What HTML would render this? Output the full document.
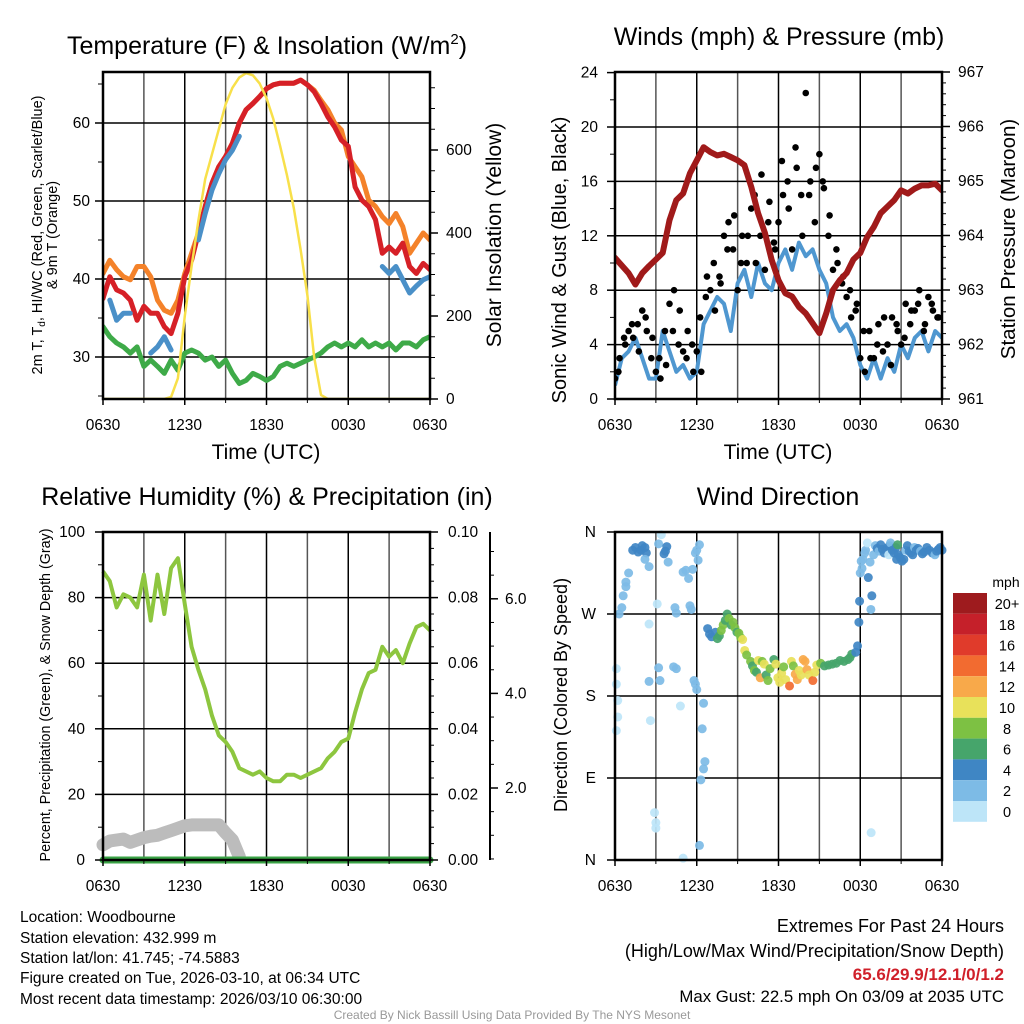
<!DOCTYPE html>
<html><head><meta charset="utf-8"><style>
html,body{margin:0;padding:0;background:#fff;}
svg{display:block;font-family:"Liberation Sans",sans-serif;}
</style></head><body>
<svg id="s" width="1024" height="1024" viewBox="0 0 1024 1024" xmlns="http://www.w3.org/2000/svg">
<defs>
<clipPath id="c1"><rect x="103" y="72" width="327" height="327"/></clipPath>
<clipPath id="c2"><rect x="615" y="72" width="327" height="327"/></clipPath>
<clipPath id="c3"><rect x="96" y="526" width="340" height="340"/></clipPath>
<clipPath id="c4"><rect x="608" y="526" width="340" height="340"/></clipPath>
</defs>
<g id="grid"></g>
<g id="marks"></g>
<g id="axes"></g>
<g id="txt" fill="#000">
<text x="267" y="54" font-size="25" text-anchor="middle">Temperature (F) &amp; Insolation (W/m<tspan font-size="15" dy="-10">2</tspan><tspan dy="10">)</tspan></text>
<text x="779" y="45" font-size="25" text-anchor="middle">Winds (mph) &amp; Pressure (mb)</text>
<text x="267" y="505" font-size="25" text-anchor="middle">Relative Humidity (%) &amp; Precipitation (in)</text>
<text x="778" y="505" font-size="25" text-anchor="middle">Wind Direction</text>
<text font-size="14.5" text-anchor="middle" transform="translate(42,235) rotate(-90)">2m T, T<tspan font-size="10" dy="3">d</tspan><tspan dy="-3">, HI/WC (Red, Green, Scarlet/Blue)</tspan></text>
<text font-size="14.5" text-anchor="middle" transform="translate(57,235) rotate(-90)">&amp; 9m T (Orange)</text>
<text font-size="21" text-anchor="middle" transform="translate(501,235) rotate(-90)">Solar Insolation (Yellow)</text>
<text x="266" y="459" font-size="21" text-anchor="middle">Time (UTC)</text>
<text x="778" y="459" font-size="21" text-anchor="middle">Time (UTC)</text>
<text font-size="20" text-anchor="middle" transform="translate(566,260) rotate(-90)">Sonic Wind &amp; Gust (Blue, Black)</text>
<text font-size="20.5" text-anchor="middle" transform="translate(1015,239) rotate(-90)">Station Pressure (Maroon)</text>
<text font-size="14.3" text-anchor="middle" transform="translate(50,695) rotate(-90)">Percent, Precipitation (Green), &amp; Snow Depth (Gray)</text>
<text font-size="18" text-anchor="middle" transform="translate(567,695) rotate(-90)">Direction (Colored By Speed)</text>
<text x="1006" y="587" font-size="14" text-anchor="middle">mph</text>
<g font-size="15.5">
<text x="20" y="922">Location: Woodbourne</text>
<text x="20" y="943">Station elevation: 432.999 m</text>
<text x="20" y="963">Station lat/lon: 41.745; -74.5883</text>
<text x="20" y="983">Figure created on Tue, 2026-03-10, at 06:34 UTC</text>
<text x="20" y="1004">Most recent data timestamp: 2026/03/10 06:30:00</text>
</g>
<g text-anchor="end">
<text x="1004" y="932" font-size="18">Extremes For Past 24 Hours</text>
<text x="1004" y="957" font-size="18">(High/Low/Max Wind/Precipitation/Snow Depth)</text>
<text x="1004" y="980" font-size="17" fill="#d0202a" font-weight="bold">65.6/29.9/12.1/0/1.2</text>
<text x="1004" y="1002" font-size="16.8">Max Gust: 22.5 mph On 03/09 at 2035 UTC</text>
</g>
<text x="512" y="1019" font-size="12" fill="#999" text-anchor="middle">Created By Nick Bassill Using Data Provided By The NYS Mesonet</text>
</g>
</svg>
<script>
// ---- data (30-minute samples from 0630 UTC) ----
const timeLabels = ["0630","1230","1830","0030","0630"];
const temp2m = [37.5,40.3,38.6,38.2,37.3,34.7,36.5,35.6,35.6,33.9,33,35.6,40.3,42.4,45.9,49.3,52.3,54.4,55.7,57.4,60,61.7,62.5,63.4,64.4,64.9,65.1,65.1,65.1,65.5,64.9,64,62.5,60.8,59.5,57.8,57,51.8,50.1,49.3,47.6,43.3,44.1,43.3,44.6,41.6,40.7,42,41.2];
const temp9m = [40.7,42.4,41.2,40.3,39.9,41.6,41.6,40.3,37.3,36,35.6,37.3,40.7,43.3,45.9,49.3,52.3,54.4,55.7,57.4,60,61.7,62.5,63.4,64.4,64.9,65.1,65.1,65.1,65.5,64.9,64.2,62.9,61.7,60,59.1,55.7,54.4,53.1,50.1,49.3,48,47.1,48.4,46.7,43.3,44.6,45.9,45];
const heatIndexWC = [null,37.3,34.7,35.6,35.6,null,null,30.5,31.3,32.6,30.9,null,null,null,45,48.4,51.4,53.5,55.3,56.5,58.3,null,null,null,null,null,null,null,null,null,null,null,null,null,null,null,null,null,null,null,null,41.6,40.7,41.6,39.9,38.2,39.1,39.9,40.3];
const dewpoint = [33.9,32.6,31.8,31.3,30.5,31.3,28.8,29.6,28.8,27.9,29.6,28.3,30.5,30.9,30.5,29.6,30,28.8,29.6,27.9,26.6,27,27.9,27.5,27,27.5,28.8,29.2,28.8,29.2,29.6,30,30.5,31.3,31.8,31.3,31.8,31.3,32.2,31.3,31.8,31.3,31.8,30.9,31.8,31.8,31.3,32.2,32.6];
const insolation = [0,0,0,0,0,0,0,0,0,0,5,50,200,320,430,530,590,650,710,750,775,785,780,760,725,675,610,540,460,360,250,100,10,0,0,0,0,0,0,0,0,0,0,0,0,0,0,0,0];
const windSpeed = [1,3,3.5,4.5,3,1.5,1.5,5,3.5,2,2.5,1.5,2,5.5,6.5,7.5,7,5,8.5,9.5,7.5,10,8.5,8,10,11,9.5,11.5,10.5,11,9.5,8.5,6,5,5.5,4.5,2.5,1.5,3,1.5,3,2,4,3,4.5,5,3.5,5,4.5];
const pressure = [963.59,963.45,963.31,963.1,963.31,963.44,963.56,963.68,964.28,964.65,964.77,965.14,965.38,965.62,965.53,965.47,965.5,965.44,965.38,965.29,964.89,964.41,964.05,963.55,963.18,962.94,962.88,962.69,962.57,962.39,962.21,962.57,963.0,963.18,963.31,963.56,963.68,963.97,964.16,964.41,964.53,964.65,964.83,964.77,964.86,964.92,964.92,964.95,964.83];
// gusts every 20 minutes
const gusts = [1.5,3,4.5,5,4.5,5.5,6.5,5,3,2,1.5,5,7,8,4,3.5,5,4,3.5,2,7.5,8,6.5,9,12,13,11,8,12,10,14,10,12,9.5,14.5,11.5,13,15,16,11,17,15,22.5,16,13,18,15.5,12,9.5,10,8.5,7.5,6,6.5,3,2,5,3,5.5,3.5,4,6,5.5,4,7,5.5,6.5,8,5,7.5,6.5,6];
const gusts2 = [2,4,5.5,3.5,6,4.5,3,2.5,5,6.5,3,2,6,9,10,8.5,11,13.5,10,12,15,16.5,13,11,17.5,14,18.5,12,15,17,16,13.5,11,9,8,7,5,3,4,6,2.5,5,4.5,6.5,7,5.5,7,6,5];
const relHumidity = [88,85,77,81,80,77,87,73,87,75,89,92,78,65,58,52,44,38,36,33,28,27,26,27,25,24,24,26,26,25,26,27,28,31,33,36,37,45,52,57,58,65,62,64,60,66,71,72,70];
const snowDepth = [0.8,0.88,0.9,0.92,0.85,0.9,0.95,0.98,1.0,1.05,1.1,1.15,1.2,1.22,1.22,1.22,1.22,1.22,1.05,0.9,0.55];
const precip = [0,0,0,0,0,0,0,0,0,0,0,0,0,0,0,0,0,0,0,0,0,0,0,0,0,0,0,0,0,0,0,0,0,0,0,0,0,0,0,0,0,0,0,0,0,0,0,0,0];
const dirHours = [0.1,0.1,0.2,0.2,0.1,0.3,0.5,0.6,0.8,0.8,1.0,1.3,1.5,1.7,1.9,2.0,2.2,2.3,2.2,2.5,2.5,2.5,2.6,2.9,3.0,3.0,3.2,3.3,3.1,3.4,3.2,3.6,3.7,3.8,3.9,4.4,4.5,4.3,4.5,4.8,5.0,5.2,5.4,5.5,5.6,5.7,5.9,6.0,6.1,6.2,5.8,5.9,6.0,6.5,6.4,6.6,6.5,6.3,6.2,5.0,
6.8,6.94,7.09,7.37,7.52,7.66,7.8,7.94,8.09,8.23,8.37,8.52,8.66,8.8,8.95,9.09,9.23,9.37,9.52,9.66,9.95,10.09,10.23,10.38,10.52,10.66,10.8,10.95,11.09,11.23,11.38,11.66,11.81,11.95,12.09,12.23,12.38,12.52,12.81,12.95,13.09,13.23,13.38,13.52,13.66,13.81,13.95,14.09,14.24,14.52,14.66,14.81,15.09,15.38,15.67,15.95,16.24,16.52,16.81,17.1,17.24,17.38,17.67,17.8,
17.9,17.95,18.0,18.07,18.13,18.2,18.33,18.39,18.52,18.59,18.72,18.78,18.85,18.98,19.11,19.24,19.37,19.5,19.63,19.76,19.89,20.02,20.09,20.15,20.22,20.35,20.48,20.61,20.67,20.74,20.8,20.93,21.06,21.2,21.33,21.46,21.59,21.72,21.85,21.98,22.11,22.24,22.43,22.56,22.69,22.89,23.08,23.28,23.48,23.61,23.74,23.87,24.0,18.8];
const dirDegrees = [210,193,175,157,142,270,277,290,300,305,315,340,343,338,340,345,343,337,330,322,259,196,153,52,41,35,211,197,281,357,347,336,339,344,327,277,271,212,210,169,316,318,309,279,275,319,337,340,329,346,197,193,187,172,144,108,100,88,16,2,
254,248,245,250,243,246,252,258,263,270,265,258,261,255,250,249,244,242,230,225,218,213,208,206,219,200,218,215,203,197,210,220,215,200,195,205,212,198,191,218,213,204,198,208,203,220,218,209,203,197,206,214,216,213,214,215,216,219,218,220,222,226,228,235,
261,284,315,328,320,330,337,340,348,310,327,275,290,335,345,342,339,346,341,337,340,343,335,345,348,340,337,343,330,346,335,332,328,330,340,345,339,337,335,343,340,342,339,336,338,343,340,337,335,339,341,343,340,30];
const dirSpeeds = [0.5,0.5,0.5,0.5,0.5,1,2,2,2,2,2,3,4,3.5,4,3,3.5,4,2.5,2,0.5,1,0.5,0.5,0.5,0.5,2,1,0.5,0.5,2,3.5,4,4,2,2,1,2,2,0.5,2,2,2,2,2,2,2,2,2.5,2,1,2,2,1,1,1,1,1,1,0.5,
4,4,4,3.5,5,6,7,8,6.5,6,7,6,7,8,6,7,8,10,10,8,8,6,8,6,10,12,8,10,6,8,8,6,10,10,9,10,8,10,13,10,8,12,12,9,10,12,11,12,9,13,10,10,8,6,6,6,6,6,6,5,6,5,4,4,
4,4,2,2,2,1,2,2,0.5,4,2,2,4,2,2,3,2,3,4,3.5,4,3.5,0.5,4,2,4,4,3.5,4,6,4,4,4,4,2,3.5,4,4,4,2,4,3.5,2,4,4,4,3.5,4,2,4,4,3.5,4,0.5];
const speedLabels = ["20+","18","16","14","12","10","8","6","4","2","0"];
const speedColors = ["#9e1b1e","#c5202a","#e03b2b","#f26b30","#f8a94a","#e8e15a","#7dc143","#46a56b","#3f86c4","#7dbbe6","#bde5f8"];

// ---- helpers ----
const NS="http://www.w3.org/2000/svg";
const G=document.getElementById('grid'),M=document.getElementById('marks'),A=document.getElementById('axes'),T=document.getElementById('txt');
function mk(tag,parent,attrs){const e=document.createElementNS(NS,tag);for(const k in attrs)e.setAttribute(k,attrs[k]);parent.appendChild(e);return e;}
function line(p,x1,y1,x2,y2,st,w){return mk('line',p,{x1:x1,y1:y1,x2:x2,y2:y2,stroke:st,'stroke-width':w});}
function text(p,x,y,s,size,anchor){const t=mk('text',p,{x:x,y:y,'font-size':size,'text-anchor':anchor||'middle'});t.textContent=s;return t;}
function pathFrom(vals,xf,yf,step){let d='',pen=false;vals.forEach((v,i)=>{if(v===null){pen=false;return;}d+=(pen?'L':'M')+xf(i*step).toFixed(1)+','+yf(v).toFixed(1);pen=true;});return d;}
function colorFor(s){let idx=Math.round(s/2);if(idx>10)idx=10;if(idx<0)idx=0;return speedColors[10-idx];}

const P={L:{x0:103,x1:430},R:{x0:615,x1:942}};
const xL=h=>P.L.x0+h*(P.L.x1-P.L.x0)/24;
const xR=h=>P.R.x0+h*(P.R.x1-P.R.x0)/24;
const yTemp=v=>123+(60-v)*7.8;
const ySolar=v=>399-v*0.415;
const yWind=v=>399-v*13.6;
const yPres=p=>399-(p-961)*54.5;
const yRH=v=>860-v*3.28;
const yPrecip=v=>860-v*3280;
const ySnow=v=>882.6-v*47.3;
const yDir=d=>860-d*328/360;
const TF=15.5;

function xgrid(xf,y0,y1){for(let h=3;h<24;h+=3){const l=line(G,xf(h),y0,xf(h),y1,(h%6===0)?'#000':'#555',1.5);}}
function xticks(xf,yb,yl,label){timeLabels.forEach((s,i)=>{const h=i*6;line(A,xf(h),yb,xf(h),yb+6,'#000',1.5);const t=text(A,xf(h),yl,s,TF);});for(let h=3;h<24;h+=6)line(A,xf(h),yb,xf(h),yb+4,'#000',1);}
function frame(x0,y0,x1,y1,name){const r=mk('rect',A,{x:x0,y:y0,width:x1-x0,height:y1-y0,fill:'none',stroke:'#000','stroke-width':2.5});}

// ===== Panel 1 =====
xgrid(xL,72,399);
[30,40,50,60].forEach(v=>line(G,103,yTemp(v),430,yTemp(v),'#000',1.5));
const c1=mk('g',M,{'clip-path':'url(#c1)'});
[['temp-9m-line',temp9m,'#f4822a'],['temp-2m-line',temp2m,'#d62027'],['heat-index-wind-chill-line',heatIndexWC,'#4a90c8'],['dewpoint-line',dewpoint,'#3eaa48']].forEach(s=>{
 const p=mk('path',c1,{d:pathFrom(s[1],xL,yTemp,0.5),fill:'none',stroke:s[2],'stroke-width':5,'stroke-linejoin':'round','stroke-linecap':'round'});
 });
const ins=mk('path',c1,{d:pathFrom(insolation,xL,ySolar,0.5),fill:'none',stroke:'#f8e04a','stroke-width':2.5,'stroke-linejoin':'round'});

frame(103,72,430,399,'temp-plot-frame');
[30,40,50,60].forEach(v=>{line(A,95,yTemp(v),103,yTemp(v),'#000',1.5);const t=text(A,90,yTemp(v)+5,String(v),TF,'end');});
[25,35,45,55,65].forEach(v=>line(A,98,yTemp(v),103,yTemp(v),'#000',1));
[0,200,400,600].forEach(v=>{line(A,430,ySolar(v),438,ySolar(v),'#000',1.5);const t=text(A,446,ySolar(v)+5,String(v),TF,'start');});
for(let v=50;v<800;v+=50){if(v%200)line(A,430,ySolar(v),435,ySolar(v),'#000',1);}
xticks(xL,399,430,'temp-x');

// ===== Panel 2 =====
xgrid(xR,72,399);
[4,8,12,16,20].forEach(v=>line(G,615,yWind(v),942,yWind(v),'#000',1.5));
const c2=mk('g',M,{'clip-path':'url(#c2)'});
const wp=mk('path',c2,{d:pathFrom(windSpeed,xR,yWind,0.5),fill:'none',stroke:'#4f97d0','stroke-width':4,'stroke-linejoin':'round'});

gusts.forEach((g,i)=>{const c=mk('circle',c2,{cx:xR(i/3),cy:yWind(g),r:3.3,fill:'#000'});});
gusts2.forEach((g,i)=>{const c=mk('circle',c2,{cx:xR(i*0.5+0.25),cy:yWind(g),r:3.3,fill:'#000'});});
const pp=mk('path',c2,{d:pathFrom(pressure,xR,yPres,0.5),fill:'none',stroke:'#a01a1a','stroke-width':6,'stroke-linejoin':'round','stroke-linecap':'round'});

frame(615,72,942,399,'wind-plot-frame');
[0,4,8,12,16,20,24].forEach(v=>{line(A,607,yWind(v),615,yWind(v),'#000',1.5);const t=text(A,598,yWind(v)+5,String(v),TF,'end');});
[2,6,10,14,18,22].forEach(v=>line(A,610,yWind(v),615,yWind(v),'#000',1));
[961,962,963,964,965,966,967].forEach(v=>{line(A,942,yPres(v),950,yPres(v),'#000',1.5);const t=text(A,958,yPres(v)+5,String(v),TF,'start');});
for(let v=961.2;v<967;v+=0.2){line(A,942,yPres(v),946,yPres(v),'#000',1);}
xticks(xR,399,430,'wind-x');

// ===== Panel 3 =====
xgrid(xL,532,860);
[20,40,60,80].forEach(v=>line(G,103,yRH(v),430,yRH(v),'#000',1.5));
const c3=mk('g',M,{'clip-path':'url(#c3)'});
const sp=mk('path',c3,{d:pathFrom(snowDepth,xL,ySnow,0.5),fill:'none',stroke:'#bcbcbc','stroke-width':13,'stroke-linejoin':'round','stroke-linecap':'round'});

const rp=mk('path',c3,{d:pathFrom(relHumidity,xL,yRH,0.5),fill:'none',stroke:'#8dc63f','stroke-width':4,'stroke-linejoin':'round'});

const prp=mk('path',c3,{d:pathFrom(precip,xL,yPrecip,0.5),fill:'none',stroke:'#3aa346','stroke-width':7,'stroke-linecap':'round'});

frame(103,532,430,860,'rh-plot-frame');
[0,20,40,60,80,100].forEach(v=>{line(A,95,yRH(v),103,yRH(v),'#000',1.5);const t=text(A,85,yRH(v)+5,String(v),TF,'end');});
[10,30,50,70,90].forEach(v=>line(A,98,yRH(v),103,yRH(v),'#000',1));
['0.00','0.02','0.04','0.06','0.08','0.10'].forEach((s,i)=>{const v=i*0.02;line(A,430,yPrecip(v),438,yPrecip(v),'#000',1.5);const t=text(A,448,yPrecip(v)+5,s,TF,'start');});
for(let v=0.005;v<0.1;v+=0.005){line(A,430,yPrecip(v),434,yPrecip(v),'#000',1);}
const sa=line(A,490,532,490,860,'#000',2);
['2.0','4.0','6.0'].forEach((s,i)=>{const v=(i+1)*2;line(A,490,ySnow(v),498,ySnow(v),'#000',1.5);const t=text(A,505,ySnow(v)+5,s,TF,'start');});
for(let v=0.5;v<7.5;v+=0.5){if(v%2&&ySnow(v)<=860&&ySnow(v)>=532)line(A,490,ySnow(v),494,ySnow(v),'#000',1);}
xticks(xL,860,891,'rh-x');

// ===== Panel 4 =====
xgrid(xR,532,860);
[90,180,270].forEach(v=>line(G,615,yDir(v),942,yDir(v),'#000',1.5));
const c4=mk('g',M,{'clip-path':'url(#c4)'});
dirHours.forEach((h,i)=>{const c=mk('circle',c4,{cx:xR(h),cy:yDir(dirDegrees[i]),r:4.5,fill:colorFor(dirSpeeds[i]),'fill-opacity':0.92});});
frame(615,532,942,860,'direction-plot-frame');
['N','E','S','W','N'].forEach((s,i)=>{const v=i*90;line(A,607,yDir(v),615,yDir(v),'#000',1.5);const t=text(A,596,yDir(v)+5,s,TF,'end');});
xticks(xR,860,891,'direction-x');
speedLabels.forEach((s,i)=>{const y=593+i*20.8;const r=mk('rect',A,{x:953,y:y,width:34,height:20.8,fill:speedColors[i]});
 const t=text(A,1007,y+16,s,14.5,'middle');});
</script>
</body></html>
